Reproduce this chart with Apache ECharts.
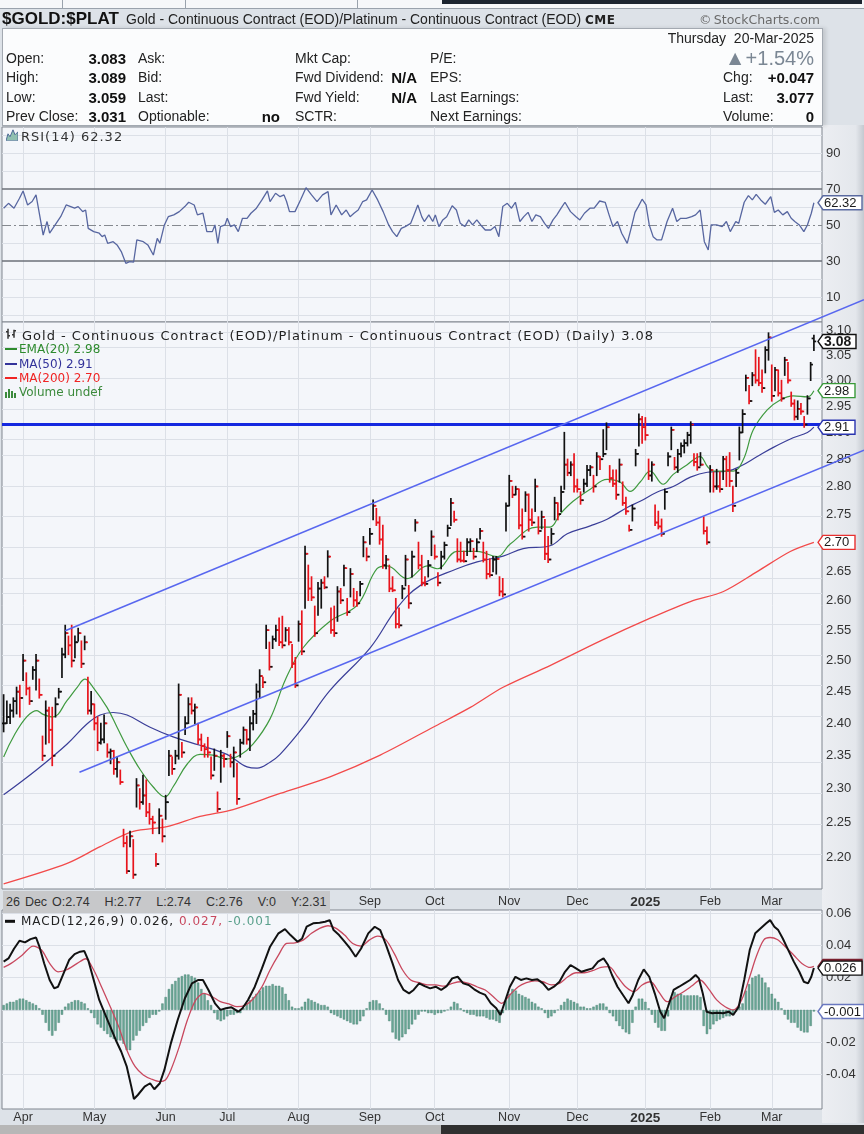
<!DOCTYPE html>
<html><head><meta charset="utf-8">
<script src="https://cdn.jsdelivr.net/npm/echarts@6.0.0/dist/echarts.min.js"></script>
<style>
html,body{margin:0;padding:0;}
body{width:864px;height:1134px;background:#dde2e8;position:relative;overflow:hidden;font-family:'Liberation Sans',Arial,sans-serif;color:#222;}
#chart{position:absolute;left:0;top:0;width:864px;height:1134px;z-index:1;}
.t{position:absolute;white-space:nowrap;transform:translateY(-50%);line-height:1.15;z-index:3;}
.b{position:absolute;z-index:0;}
.lab{font:14px 'Liberation Sans',Arial,sans-serif;color:#222;}
.val{font:bold 15px 'Liberation Sans',Arial,sans-serif;color:#111;}
.leg{font:12px 'DejaVu Sans',sans-serif;}
.dash{display:inline-block;width:12px;height:2px;vertical-align:middle;margin-right:2px;position:relative;top:-1px;}
</style></head>
<body>
<!-- backgrounds -->
<div class="b" style="left:0;top:0;width:864px;height:8px;background:#f6f7f9;border-bottom:1px solid #9aa2ac;"></div>
<div class="b" style="left:62px;top:0;width:1px;height:8px;background:#9aa2ac;"></div>
<div class="b" style="left:185px;top:0;width:1px;height:8px;background:#9aa2ac;"></div>
<div class="b" style="left:357px;top:0;width:1px;height:8px;background:#9aa2ac;"></div>
<div class="b" style="left:442px;top:0;width:420px;height:4px;background:#1d2530;"></div>
<div class="b" style="left:822px;top:125px;width:42px;height:998px;background:linear-gradient(to right,#eceef2 0%,#e4e7ec 80%,#c4c9d0 100%);"></div>
<div class="b" style="left:2px;top:28px;width:819px;height:96px;background:#fbfcfd;border:1px solid #a3a9b1;box-shadow:3px 0 4px rgba(0,0,0,0.12);"></div>
<div class="b" style="left:0;top:1125px;width:441px;height:9px;background:#b7b7b7;z-index:4;"></div>
<div class="b" style="left:441px;top:1125px;width:423px;height:9px;background:#303030;z-index:4;"></div>

<div id="chart"></div>

<!-- header -->
<div class="t" style="left:2px;top:19px;font:bold 17px 'Liberation Sans',Arial,sans-serif;color:#111;">$GOLD:$PLAT</div>
<div class="t" style="left:126px;top:19px;font:14px 'Liberation Sans',Arial,sans-serif;color:#222;">Gold - Continuous Contract (EOD)/Platinum - Continuous Contract (EOD) <span style="font:bold 12px 'DejaVu Sans',sans-serif;letter-spacing:0.5px;">CME</span></div>
<div class="t" style="right:44px;top:19px;font:12.5px 'DejaVu Sans',sans-serif;color:#6a6a6a;">&copy;&thinsp;StockCharts.com</div>

<div class="t lab" style="right:50px;top:38px;">Thursday&nbsp;&nbsp;20-Mar-2025</div>
<div class="t" style="right:50px;top:58px;font:20px 'Liberation Sans',Arial,sans-serif;color:#7b8794;"><span style="font-size:21px;">&#9650;</span>+1.54%</div>

<div class="t lab" style="left:6px;top:58px;">Open:</div>
<div class="t val" style="right:738px;top:58px;">3.083</div>
<div class="t lab" style="left:138px;top:58px;">Ask:</div>
<div class="t lab" style="left:295px;top:58px;">Mkt Cap:</div>
<div class="t lab" style="left:430px;top:58px;">P/E:</div>

<div class="t lab" style="left:6px;top:77px;">High:</div>
<div class="t val" style="right:738px;top:77px;">3.089</div>
<div class="t lab" style="left:138px;top:77px;">Bid:</div>
<div class="t lab" style="left:295px;top:77px;">Fwd Dividend:</div>
<div class="t val" style="right:447px;top:77px;">N/A</div>
<div class="t lab" style="left:430px;top:77px;">EPS:</div>
<div class="t lab" style="left:723px;top:77px;">Chg:</div>
<div class="t val" style="right:50px;top:77px;">+0.047</div>

<div class="t lab" style="left:6px;top:97px;">Low:</div>
<div class="t val" style="right:738px;top:97px;">3.059</div>
<div class="t lab" style="left:138px;top:97px;">Last:</div>
<div class="t lab" style="left:295px;top:97px;">Fwd Yield:</div>
<div class="t val" style="right:447px;top:97px;">N/A</div>
<div class="t lab" style="left:430px;top:97px;">Last Earnings:</div>
<div class="t lab" style="left:723px;top:97px;">Last:</div>
<div class="t val" style="right:50px;top:97px;">3.077</div>

<div class="t lab" style="left:6px;top:116px;">Prev Close:</div>
<div class="t val" style="right:738px;top:116px;">3.031</div>
<div class="t lab" style="left:138px;top:116px;">Optionable:</div>
<div class="t val" style="right:584px;top:116px;">no</div>
<div class="t lab" style="left:295px;top:116px;">SCTR:</div>
<div class="t lab" style="left:430px;top:116px;">Next Earnings:</div>
<div class="t lab" style="left:723px;top:116px;">Volume:</div>
<div class="t val" style="right:50px;top:116px;">0</div>

<!-- RSI legend -->
<div class="t" style="left:6px;top:136px;"><svg width="12" height="12" viewBox="0 0 12 12"><polygon points="0,12 2,5 4,8 7,1 9,6 12,3 12,12" fill="#8fc0b0" stroke="#4f6b96" stroke-width="1"/></svg></div>
<div class="t" style="left:21px;top:136px;font:13px 'DejaVu Sans',sans-serif;letter-spacing:1px;color:#333;">RSI(14) 62.32</div>

<!-- main legend -->
<div class="t" style="left:5px;top:335px;"><svg width="13" height="12" viewBox="0 0 13 12"><g stroke="#333" stroke-width="1.5"><line x1="3" y1="1" x2="3" y2="11"/><line x1="1" y1="4" x2="3" y2="4"/><line x1="3" y1="8" x2="5" y2="8"/><line x1="9" y1="2" x2="9" y2="10"/><line x1="7" y1="7" x2="9" y2="7"/><line x1="9" y1="3" x2="11" y2="3"/></g></svg></div>
<div class="t" style="left:22px;top:335px;font:13px 'DejaVu Sans',sans-serif;letter-spacing:1px;color:#222;">Gold - Continuous Contract (EOD)/Platinum - Continuous Contract (EOD) (Daily) 3.08</div>
<div class="t leg" style="left:5px;top:349px;color:#2e8b2e;"><span class="dash" style="background:#2e8b2e;"></span>EMA(20) 2.98</div>
<div class="t leg" style="left:5px;top:364px;color:#33339a;"><span class="dash" style="background:#33339a;"></span>MA(50) 2.91</div>
<div class="t leg" style="left:5px;top:378px;color:#f02424;"><span class="dash" style="background:#f02424;"></span>MA(200) 2.70</div>
<div class="t leg" style="left:5px;top:392px;color:#3c8a3c;"><svg width="13" height="10" viewBox="0 0 13 10" style="vertical-align:middle;margin-right:1px;"><g fill="#3c8a3c"><rect x="0" y="4" width="2" height="6"/><rect x="3" y="1" width="2" height="9"/><rect x="6" y="3" width="2" height="7"/><rect x="9" y="5" width="2" height="5"/></g></svg>Volume undef</div>

<!-- date strip -->
<div class="b" style="left:3px;top:891px;width:327px;height:22px;background:#c7c8ca;z-index:3;"></div>
<div class="t" style="left:6px;top:902px;font:12.5px 'Liberation Sans',Arial,sans-serif;color:#333;word-spacing:1.5px;">26 Dec O:2.74&nbsp;&nbsp;&nbsp;H:2.77&nbsp;&nbsp;&nbsp;L:2.74&nbsp;&nbsp;&nbsp;C:2.76&nbsp;&nbsp;&nbsp;V:0&nbsp;&nbsp;&nbsp;Y:2.31</div>

<!-- MACD legend -->
<div class="t" style="left:5px;top:921px;"><span style="display:inline-block;width:10px;height:3px;background:#111;vertical-align:middle;"></span></div>
<div class="t" style="left:21px;top:921px;font:12px 'DejaVu Sans',sans-serif;letter-spacing:1px;color:#222;">MACD(12,26,9) 0.026, <span style="color:#c8485e;">0.027,</span> <span style="color:#5aa08c;">-0.001</span></div>

<script>
// ---------- axis / category data ----------
const monthIdx = [6, 28, 50, 69, 91, 113, 133, 156, 177, 198, 218, 237];
const monthLab = ['Apr', 'May', 'Jun', 'Jul', 'Aug', 'Sep', 'Oct', 'Nov', 'Dec', '2025', 'Feb', 'Mar'];
const priceTicks = [2.20, 2.25, 2.30, 2.35, 2.40, 2.45, 2.50, 2.55, 2.60, 2.65, 2.70, 2.75, 2.80, 2.85, 2.90, 2.95, 3.00, 3.05, 3.10];
const rsiTicks = [10, 30, 50, 70, 90];
const rsiGrid = [0, 10, 20, 40, 60, 80, 90, 100];
const macdTicks = [-0.04, -0.02, 0.02, 0.04, 0.06];
const macdGrid = [-0.04, -0.02, 0, 0.02, 0.04, 0.06];

// ---------- daily price bars (day index 0 = 21-Mar-2024 ... 250 = 20-Mar-2025) ----------
const dayHigh = [
 2.445,2.435,2.43,2.44,2.457,2.46,2.51,2.48,2.457,2.49,
 2.51,2.47,2.38,2.435,2.425,2.425,2.44,2.455,2.52,2.558,
 2.54,2.558,2.54,2.553,2.532,2.54,2.473,2.45,2.43,2.41,
 2.40,2.413,2.368,2.36,2.358,2.348,2.328,2.24,2.23,2.237,
 2.225,2.315,2.30,2.32,2.313,2.278,2.259,2.205,2.27,2.255,
 2.29,2.358,2.348,2.358,2.462,2.37,2.41,2.44,2.44,2.43,
 2.40,2.383,2.368,2.378,2.348,2.36,2.295,2.358,2.352,2.387,
 2.352,2.363,2.338,2.375,2.394,2.39,2.41,2.42,2.462,2.485,
 2.473,2.558,2.53,2.54,2.558,2.57,2.573,2.554,2.554,2.526,
 2.505,2.565,2.582,2.693,2.66,2.64,2.59,2.63,2.635,2.64,
 2.685,2.587,2.59,2.623,2.62,2.66,2.603,2.654,2.62,2.615,
 2.632,2.71,2.69,2.724,2.775,2.76,2.745,2.73,2.677,2.66,
 2.64,2.603,2.587,2.625,2.677,2.625,2.684,2.74,2.70,2.677,
 2.64,2.668,2.72,2.695,2.647,2.684,2.70,2.73,2.778,2.755,
 2.706,2.70,2.684,2.706,2.706,2.689,2.706,2.724,2.70,2.684,
 2.671,2.675,2.675,2.64,2.637,2.77,2.82,2.80,2.80,2.795,
 2.759,2.79,2.786,2.759,2.813,2.745,2.755,2.74,2.71,2.724,
 2.78,2.77,2.80,2.90,2.85,2.845,2.86,2.813,2.79,2.813,
 2.838,2.838,2.82,2.862,2.855,2.905,2.918,2.838,2.83,2.83,
 2.85,2.808,2.78,2.73,2.766,2.868,2.935,2.93,2.928,2.85,
 2.845,2.766,2.755,2.741,2.795,2.862,2.91,2.853,2.868,2.88,
 2.886,2.90,2.92,2.86,2.86,2.862,2.745,2.727,2.838,2.826,
 2.831,2.826,2.855,2.855,2.862,2.80,2.831,2.91,2.943,3.01,
 2.99,3.015,3.06,3.045,3.02,3.066,3.094,3.03,3.025,3.02,
 3.00,3.045,3.035,2.977,2.962,2.96,2.955,2.93,2.97,3.035,3.089];
const dayLow = [
 2.387,2.40,2.40,2.41,2.415,2.41,2.468,2.445,2.43,2.47,
 2.453,2.44,2.343,2.368,2.37,2.335,2.41,2.44,2.473,2.505,
 2.51,2.49,2.505,2.532,2.489,2.518,2.415,2.415,2.39,2.358,
 2.368,2.37,2.348,2.338,2.322,2.318,2.307,2.215,2.177,2.215,
 2.17,2.273,2.27,2.277,2.259,2.248,2.234,2.187,2.234,2.222,
 2.255,2.32,2.322,2.338,2.345,2.348,2.383,2.40,2.415,2.40,
 2.368,2.358,2.348,2.348,2.315,2.328,2.266,2.31,2.333,2.363,
 2.333,2.318,2.277,2.348,2.368,2.368,2.358,2.39,2.40,2.44,
 2.457,2.52,2.485,2.52,2.532,2.525,2.521,2.532,2.526,2.489,
 2.457,2.532,2.51,2.587,2.60,2.60,2.54,2.575,2.587,2.62,
 2.64,2.545,2.54,2.565,2.595,2.625,2.575,2.606,2.59,2.59,
 2.608,2.675,2.668,2.697,2.74,2.73,2.697,2.655,2.654,2.615,
 2.615,2.554,2.554,2.603,2.625,2.587,2.64,2.72,2.654,2.625,
 2.625,2.64,2.677,2.671,2.625,2.654,2.671,2.711,2.73,2.736,
 2.666,2.666,2.666,2.677,2.684,2.671,2.684,2.706,2.666,2.637,
 2.64,2.649,2.645,2.608,2.606,2.72,2.765,2.78,2.785,2.724,
 2.706,2.755,2.72,2.73,2.755,2.715,2.724,2.67,2.665,2.697,
 2.74,2.74,2.755,2.795,2.82,2.82,2.79,2.79,2.768,2.79,
 2.80,2.82,2.79,2.82,2.831,2.855,2.868,2.808,2.80,2.777,
 2.808,2.766,2.75,2.72,2.738,2.838,2.875,2.88,2.886,2.813,
 2.81,2.73,2.724,2.711,2.759,2.838,2.868,2.831,2.826,2.855,
 2.862,2.875,2.88,2.838,2.83,2.838,2.715,2.697,2.79,2.79,
 2.795,2.79,2.813,2.80,2.80,2.755,2.80,2.849,2.90,2.98,
 2.955,2.99,2.995,2.99,2.977,3.015,3.04,2.96,2.98,2.97,
 2.96,3.01,2.995,2.95,2.924,2.925,2.935,2.91,2.935,3.00,3.059];
const dayClose = [
 2.40,2.41,2.42,2.435,2.45,2.44,2.50,2.455,2.435,2.485,
 2.50,2.445,2.35,2.42,2.39,2.35,2.43,2.45,2.51,2.545,
 2.525,2.50,2.53,2.545,2.495,2.53,2.42,2.43,2.40,2.37,
 2.375,2.40,2.355,2.357,2.33,2.34,2.31,2.22,2.18,2.23,
 2.175,2.305,2.28,2.29,2.265,2.255,2.25,2.19,2.26,2.23,
 2.28,2.35,2.33,2.35,2.445,2.355,2.40,2.43,2.42,2.425,
 2.375,2.365,2.36,2.355,2.32,2.35,2.27,2.35,2.345,2.38,
 2.34,2.355,2.285,2.37,2.39,2.375,2.40,2.415,2.45,2.475,
 2.465,2.55,2.49,2.535,2.55,2.53,2.525,2.55,2.53,2.495,
 2.46,2.56,2.515,2.68,2.62,2.605,2.545,2.62,2.63,2.622,
 2.675,2.55,2.545,2.615,2.60,2.655,2.58,2.645,2.60,2.595,
 2.628,2.70,2.675,2.715,2.765,2.735,2.705,2.66,2.67,2.62,
 2.617,2.56,2.558,2.62,2.67,2.595,2.675,2.735,2.66,2.63,
 2.628,2.66,2.71,2.675,2.63,2.675,2.695,2.725,2.77,2.74,
 2.67,2.668,2.667,2.70,2.702,2.675,2.70,2.72,2.67,2.645,
 2.643,2.67,2.671,2.615,2.61,2.765,2.81,2.785,2.795,2.73,
 2.71,2.785,2.74,2.735,2.80,2.72,2.745,2.68,2.67,2.715,
 2.77,2.75,2.79,2.84,2.825,2.84,2.80,2.795,2.775,2.805,
 2.83,2.835,2.80,2.855,2.85,2.86,2.91,2.815,2.805,2.785,
 2.84,2.77,2.755,2.722,2.76,2.86,2.925,2.91,2.895,2.82,
 2.84,2.735,2.728,2.715,2.79,2.855,2.905,2.835,2.86,2.875,
 2.88,2.895,2.915,2.845,2.835,2.84,2.72,2.70,2.83,2.80,
 2.80,2.795,2.85,2.83,2.81,2.765,2.825,2.90,2.935,3.005,
 2.96,3.01,3.00,2.995,2.985,3.06,3.085,2.97,3.02,2.975,
 2.965,3.04,3.00,2.955,2.93,2.945,2.94,2.915,2.965,3.031,3.077];
const lastOpen = 3.083;

// ---------- overlays [day, price] ----------
const ema20Pts = [[0,2.348],[10.3,2.42],[12.2,2.414],[15.2,2.41],[19.6,2.436],[22.7,2.457],[25.1,2.47],[27.6,2.457],[31.9,2.425],[35,2.394],[38.1,2.363],[42.1,2.329],[46.1,2.303],[49.8,2.288],[52.3,2.303],[56.6,2.337],[60.6,2.352],[64.6,2.351],[68.9,2.345],[73,2.351],[77,2.368],[82.2,2.407],[87,2.47],[92.4,2.521],[100.7,2.565],[109.1,2.592],[115.2,2.654],[118.3,2.659],[124.5,2.637],[130.7,2.659],[133.8,2.654],[139.9,2.684],[146.1,2.684],[152.3,2.675],[156.3,2.697],[164.6,2.727],[168.6,2.727],[171.7,2.75],[175.7,2.773],[181,2.795],[186.2,2.813],[190.2,2.808],[193.3,2.791],[196.4,2.808],[199.5,2.828],[203.5,2.804],[206.6,2.822],[210.9,2.84],[214.9,2.855],[217.1,2.837],[218.9,2.828],[225.1,2.828],[228.2,2.849],[231.3,2.905],[235.6,2.943],[239.6,2.962],[243.6,2.97],[248,2.968],[250,2.98]];
const ma50Pts = [[0,2.291],[10.3,2.329],[19.6,2.368],[25.7,2.399],[29.8,2.413],[33.8,2.417],[38.1,2.413],[45.2,2.394],[52.3,2.379],[60.6,2.366],[68.9,2.352],[75.1,2.333],[78.2,2.331],[82.2,2.34],[85.3,2.352],[92.4,2.394],[100.7,2.452],[113.1,2.521],[121.4,2.587],[128.5,2.625],[139.9,2.654],[146.1,2.666],[154.1,2.676],[160.3,2.689],[168.6,2.694],[173.9,2.715],[181,2.729],[186.2,2.741],[192.4,2.762],[196.4,2.773],[201.7,2.79],[206.6,2.80],[211.9,2.817],[217.1,2.826],[223.3,2.828],[227.3,2.837],[232.5,2.855],[237.5,2.872],[243.6,2.89],[248,2.90],[250,2.91]];
const ma200Pts = [[0,2.162],[19.6,2.191],[29.8,2.215],[40,2.237],[50.4,2.244],[60.6,2.259],[70.8,2.269],[85.3,2.293],[100.7,2.318],[116.2,2.351],[132.5,2.394],[144,2.425],[154.1,2.457],[168.6,2.492],[184,2.532],[199.5,2.57],[211.9,2.598],[222.1,2.615],[232.5,2.649],[242.7,2.684],[250,2.70]];
// trend channel: two anchor points each; the drawn segment is extended to the right edge of the chart
const upperChannel = [[19, 2.549], [200, 2.986]];
const lowerChannel = [[23.4, 2.325], [200, 2.709]];
const supportLevel = 2.91;

// ---------- RSI(14) [day, value] ----------
const rsiPts = [[0,59.3],[1.5,62],[3.2,59.3],[4.9,64.8],[6,68.9],[7.4,61.1],[8.8,63],[10,66.7],[11.1,55.6],[12.2,44.4],[13.4,51.9],[14.2,45.4],[15.9,50],[17.6,54.6],[19.3,61.1],[20.7,60.2],[21.9,59.3],[23,60.2],[24.4,57.4],[25.3,58.3],[26.1,48.1],[27.8,46.3],[29.5,45.4],[30.4,43.5],[31.2,44.4],[32.1,39.8],[33.8,40.7],[35,38.9],[36.3,35.2],[37.7,28.7],[38.9,29.6],[40.1,29.3],[41.1,41.7],[43.1,40.7],[44.5,38.9],[46.2,33.3],[47.4,42.6],[48.2,39.8],[49.6,50],[50.8,54.6],[52.5,55.6],[54.2,57.4],[55.9,60.2],[57.1,62.6],[58.8,61.1],[59.8,55.6],[61.5,56.5],[62.7,46.3],[64.4,46.3],[65.2,50],[66.1,39.8],[66.9,49.1],[68.3,50],[69,53.7],[70,49.1],[71.2,50],[72.4,46.3],[73.7,53.7],[75.1,53.7],[76.3,56.5],[78,59.3],[79.7,63.9],[81.4,68.9],[82.2,63],[83.9,67.6],[85.3,65.7],[86.5,66.7],[87.3,63],[88.2,57.4],[89.9,57.4],[91.6,63.9],[93.3,70.7],[95,66.7],[96.7,63],[98.4,66.7],[100.1,68.5],[101,55.6],[102.6,61.1],[104.3,55.6],[105.7,58.3],[106.9,54.6],[108.1,56.5],[109.4,58.3],[110.8,63],[112,63.9],[113.7,69.4],[115.4,63.9],[117.1,57.4],[118.8,50],[120,46.3],[121.3,43.5],[122.7,48.1],[123.9,49.1],[125.6,50.9],[126.4,54.6],[127.8,61.1],[129,54.6],[129.8,51.9],[131.2,55.6],[132.4,51.9],[133.2,55.6],[134.3,49.1],[135.5,52.8],[136.7,54.6],[138.4,60.7],[139.7,58.3],[140.9,50.9],[142.3,49.1],[143.5,52.8],[144.7,50],[146,52.8],[147.2,50],[148.6,47.2],[150.3,47.2],[151.6,49.1],[152.8,43.5],[154,60.2],[155.4,62],[156.7,59.3],[157.9,62.6],[159.3,51.9],[160.5,54.6],[161.8,57],[163,51.9],[164.2,55.6],[165.6,54.6],[166.9,50.9],[168.1,48.1],[169.5,52.8],[170.7,55.6],[172,59.3],[173.2,62.6],[174.9,57.4],[176.6,54.6],[177.8,52.8],[179.2,56.5],[180.9,59.3],[182.2,59.3],[183.9,63.3],[185.6,62.6],[186.8,55.6],[188,49.1],[189.4,51.9],[190.7,45.4],[192.4,39.8],[193.6,48.1],[194.8,57],[195.8,60.2],[197,64.3],[198.2,61.1],[199.2,50],[200.4,43.5],[201.6,41.7],[203,41.7],[204.7,51.9],[206.4,59.3],[207.7,51.9],[208.9,53.7],[210.6,53.7],[212.3,54.6],[213.5,55.6],[214.9,58.3],[216.2,40.7],[217.4,36.1],[218.3,50],[220,50],[221.7,49.1],[223,51.9],[224.2,46.3],[225.9,51.9],[226.8,50.9],[228.5,62.6],[229.8,66.3],[231,63.9],[232.2,67],[233.6,63.9],[235,61.5],[236.7,65.7],[237.8,57],[239,58.3],[240.4,55.6],[241.8,57.4],[243,53.7],[244.1,51.9],[245.5,50],[246.9,46.3],[248,50],[249.2,56.5],[250,62.32]];

// ---------- MACD(12,26,9) ----------
const macdPts = [[0,0.030],[1.5,0.032],[3.2,0.038],[4.9,0.043],[6.6,0.042],[8.3,0.044],[10,0.045],[11.1,0.039],[12.5,0.029],[14.2,0.0186],[15.6,0.0134],[16.8,0.0144],[18.5,0.0227],[20.2,0.031],[21.9,0.0347],[23.6,0.0362],[24.9,0.0366],[26.1,0.031],[27.8,0.0186],[29.5,0.0062],[31.2,-0.0021],[32.9,-0.0104],[34.6,-0.0187],[36.3,-0.026],[38,-0.0353],[39.4,-0.0477],[40.2,-0.0554],[41.4,-0.0529],[43.5,-0.0477],[45.2,-0.0456],[46.5,-0.0493],[48.2,-0.0456],[49.6,-0.0373],[51.6,-0.0208],[53.7,-0.0063],[55.9,0.0071],[58.1,0.0165],[60.1,0.0186],[61.5,0.0186],[63.2,0.0124],[65.2,0.0041],[66.9,0],[68.6,0.001],[70.3,0.0016],[72.4,-0.0011],[73.7,0.001],[75.4,0.0062],[77.5,0.0144],[79.7,0.0258],[82.2,0.0393],[84.8,0.0476],[86.8,0.0502],[88.5,0.0465],[90.7,0.0424],[92.1,0.0444],[93.5,0.0517],[95.5,0.0538],[97.5,0.0542],[99.2,0.0548],[100.6,0.0558],[101.8,0.0496],[103.5,0.0465],[105.2,0.0424],[106.9,0.0382],[108.6,0.033],[110.3,0.0382],[112.5,0.0476],[114.5,0.0517],[116.2,0.0496],[118,0.0403],[120,0.0289],[121.7,0.0186],[123.4,0.0124],[125.1,0.0103],[126.5,0.0124],[128.2,0.0165],[129.9,0.0148],[131.6,0.0134],[133.3,0.0144],[135,0.0124],[136.7,0.0148],[138.4,0.0196],[140.1,0.0206],[141.8,0.0165],[143.5,0.0155],[145.2,0.0128],[146.9,0.0107],[148.6,0.0093],[150.3,0.0041],[152,0.001],[153.3,-0.0032],[154.5,0.0041],[156.2,0.0144],[157.9,0.0206],[159.6,0.0186],[161.3,0.0196],[163,0.0186],[164.7,0.019],[166.4,0.0165],[168.1,0.0124],[169.8,0.0144],[171.5,0.0175],[173.2,0.0237],[174.9,0.0279],[176.6,0.0258],[178.3,0.0237],[180,0.0248],[181.7,0.0258],[183.4,0.03],[185.1,0.032],[186.5,0.0279],[187.7,0.0217],[189.4,0.0144],[191.1,0.0093],[192.8,0.0041],[194.1,0.0093],[195.8,0.0186],[197.5,0.0252],[199.2,0.0206],[200.9,0.0103],[202.6,-0.0011],[203.8,-0.0052],[205,0.002],[206.7,0.0124],[208.4,0.0144],[210.1,0.0165],[211.8,0.0186],[213.5,0.0217],[214.5,0.0196],[215.7,0.0103],[216.9,-0.0011],[218.6,-0.0021],[220.3,-0.0017],[222,-0.0021],[223.7,-0.0011],[225.1,-0.0032],[226.8,0.002],[228.5,0.0186],[230.2,0.0372],[231.9,0.0476],[233.6,0.0507],[235.3,0.0538],[236.5,0.0558],[237.8,0.0517],[239,0.0496],[240.4,0.0444],[242.1,0.0372],[243.8,0.03],[245.5,0.0237],[246.9,0.0175],[248.2,0.0165],[249.2,0.0206],[250,0.026]];
const signalPts = [[0,0.0264],[2.3,0.0289],[5.7,0.034],[9.1,0.0397],[11.7,0.0372],[14.2,0.0289],[16.8,0.0237],[19.3,0.0248],[22.7,0.0289],[25.3,0.0318],[27.8,0.0248],[30.4,0.0134],[32.9,0.002],[35.5,-0.0104],[38,-0.0249],[40.6,-0.0353],[43.1,-0.0404],[45.7,-0.0431],[48.2,-0.0446],[49.9,-0.0436],[51.6,-0.0373],[54.2,-0.0228],[56.7,-0.0063],[59.3,0.0062],[61.8,0.0103],[64.4,0.0082],[66.9,0.0051],[69.5,0.0037],[72,0.002],[74.6,0.003],[77.1,0.0071],[79.7,0.0144],[82.2,0.0248],[84.8,0.034],[87.3,0.0413],[89.9,0.0417],[92.4,0.0434],[95,0.0476],[97.5,0.0507],[100.1,0.0523],[102.6,0.0507],[105.2,0.0465],[107.7,0.0413],[110.3,0.0397],[112.8,0.0434],[115.4,0.0459],[118,0.0434],[120.5,0.0351],[123.1,0.0248],[125.6,0.0186],[128.2,0.0169],[130.7,0.0155],[133.3,0.0155],[135.8,0.0148],[138.4,0.0165],[140.9,0.0175],[143.5,0.0165],[146,0.0144],[148.6,0.0124],[151.1,0.0082],[153.7,0.0041],[156.2,0.0093],[158.8,0.0144],[161.3,0.0169],[163.9,0.0181],[166.4,0.0175],[169,0.0155],[171.5,0.0165],[174.1,0.0206],[176.6,0.0231],[179.2,0.0231],[181.7,0.0244],[184.3,0.0264],[186.8,0.0269],[189.4,0.0206],[191.9,0.0144],[194.5,0.0113],[197,0.0155],[199.6,0.0175],[202.1,0.0113],[204.7,0.0051],[207.2,0.0082],[209.8,0.0113],[212.3,0.0148],[214.9,0.0186],[217.4,0.0134],[220,0.0062],[222.6,0.002],[225.1,0],[227.7,0.0062],[230.2,0.0206],[232.2,0.033],[234.5,0.0434],[236.5,0.045],[238.7,0.0438],[241.2,0.0393],[243.8,0.034],[246.3,0.0289],[248.9,0.0264],[250,0.027]];
const macdHist = [
 0.003,0.004,0.005,0.005,0.006,0.007,0.007,0.006,0.005,0.004,
 0.003,0.001,-0.003,-0.008,-0.013,-0.016,-0.013,-0.008,-0.003,0.002,
 0.004,0.005,0.006,0.006,0.005,0.004,0.001,-0.002,-0.005,-0.009,
 -0.011,-0.013,-0.015,-0.017,-0.018,-0.019,-0.019,-0.021,-0.025,-0.025,
 -0.019,-0.016,-0.013,-0.010,-0.008,-0.005,-0.003,-0.003,-0.001,0.004,
 0.008,0.013,0.016,0.018,0.020,0.021,0.022,0.022,0.021,0.020,
 0.017,0.013,0.010,0.006,0.003,-0.002,-0.006,-0.007,-0.006,-0.004,
 -0.003,-0.003,-0.002,-0.002,0.001,0.004,0.006,0.008,0.010,0.012,
 0.014,0.015,0.015,0.016,0.015,0.015,0.014,0.010,0.006,0.002,
 0.001,0.001,0.002,0.005,0.007,0.006,0.005,0.004,0.003,0.003,
 0.002,-0.002,-0.003,-0.004,-0.005,-0.006,-0.007,-0.008,-0.009,-0.009,
 -0.007,-0.004,0.001,0.005,0.006,0.006,0.004,0.001,-0.003,-0.007,
 -0.014,-0.018,-0.019,-0.017,-0.015,-0.012,-0.009,-0.006,-0.003,-0.001,
 -0.001,-0.002,-0.002,-0.003,-0.002,-0.002,-0.001,0.000,0.002,0.005,
 0.004,0.001,-0.001,-0.002,-0.003,-0.003,-0.004,-0.004,-0.004,-0.005,
 -0.006,-0.006,-0.007,-0.008,-0.002,0.006,0.010,0.013,0.012,0.010,
 0.009,0.008,0.007,0.005,0.004,0.002,0.001,-0.002,-0.005,-0.004,
 -0.002,0.000,0.003,0.005,0.007,0.006,0.005,0.004,0.002,0.002,
 0.001,0.001,0.002,0.003,0.004,0.004,0.002,-0.002,-0.004,-0.007,
 -0.010,-0.012,-0.014,-0.015,-0.008,0.002,0.007,0.007,0.005,0.001,
 -0.003,-0.008,-0.011,-0.013,-0.013,-0.004,0.008,0.011,0.010,0.010,
 0.009,0.009,0.009,0.009,0.009,0.008,-0.010,-0.015,-0.012,-0.009,
 -0.007,-0.006,-0.005,-0.004,-0.004,-0.003,-0.001,0.002,0.004,0.012,
 0.016,0.020,0.021,0.022,0.020,0.017,0.014,0.010,0.007,0.005,
 0.001,-0.003,-0.006,-0.008,-0.008,-0.011,-0.013,-0.014,-0.014,-0.010,-0.001];

// ---------- latest-value tags ----------
const rsiTags = [{v: 62.32, text: '62.32', c: '#5a6aa0', w: 44}];
const priceTags = [
  {v: 2.70, text: '2.70', c: '#e83030', w: 37},
  {v: 2.91, text: '2.91', c: '#2a34b0', w: 37},
  {v: 2.98, text: '2.98', c: '#3a9a3a', w: 37},
  {v: 3.077, text: '3.08', c: '#111', w: 38, bold: true}];
const macdTags = [
  {v: -0.001, text: '-0.001', c: '#6a78c0', w: 46},
  {v: 0.027, text: '', c: '#7a1f2e', w: 44, fill: '#8a2536'},
  {v: 0.026, text: '0.026', c: '#111', w: 44}];

// ---------- build ----------
const L = Math.log;
const XMIN = -0.5, XMAX = 252.5;
const FONT = "'Liberation Sans', Arial, sans-serif";
const ohlc = dayClose.map((c, i) => {
  const o = i === dayClose.length - 1 ? lastOpen : (i > 0 ? dayClose[i - 1] : c);
  const up = i === 0 ? 1 : (c >= dayClose[i - 1] ? 1 : 0);
  return [i, L(o), L(dayHigh[i]), L(dayLow[i]), L(c), up];
});
const toLog = pts => pts.map(p => [p[0], L(p[1])]);

const gl = {color: '#dce0e7', width: 1, type: 'solid'};
function dummy(g, lines, z) {
  return {type: 'line', xAxisIndex: g, yAxisIndex: g, data: [[-50, -50]], showSymbol: false, silent: true, z: z,
    lineStyle: {width: 0}, animation: false,
    markLine: {silent: true, symbol: ['none', 'none'], z: z, animation: false, label: {show: false},
      emphasis: {disabled: true}, data: lines}};
}
function vLines() { return monthIdx.map(v => ({xAxis: v, lineStyle: gl})); }

function tagSeries(g, tags, conv) {
  return {type: 'custom', xAxisIndex: g, yAxisIndex: g, z: 10, silent: true, clip: false, animation: false,
    data: tags.map(t => [XMAX, conv(t.v)]),
    encode: {x: 0, y: 1},
    renderItem: (params, api) => {
      const t = tags[params.dataIndex];
      const p = api.coord([api.value(0), api.value(1)]);
      const x0 = p[0] - 4, y = p[1], w = t.w, h = 14;
      const ch = [{type: 'polygon', shape: {points: [[x0, y], [x0 + 5, y - h / 2], [x0 + w, y - h / 2], [x0 + w, y + h / 2], [x0 + 5, y + h / 2]]},
        style: {fill: t.fill || '#ffffff', stroke: t.c, lineWidth: 1.4}}];
      if (t.text) ch.push({type: 'text', style: {text: t.text, x: x0 + 6, y: y + 0.5, align: 'left', verticalAlign: 'middle',
        fill: '#1a1a1a', font: (t.bold ? 'bold 14px ' : '13px ') + FONT}});
      return {type: 'group', children: ch};
    }};
}

// channel line: segment through the two anchors, extended to the right edge of the chart
function channelSeries(pts) {
  return {type: 'custom', xAxisIndex: 1, yAxisIndex: 1, z: 6, silent: true, clip: false, animation: false,
    data: [[pts[0][0], L(pts[0][1]), pts[1][0], L(pts[1][1])]],
    encode: {x: [0, 2], y: [1, 3]},
    renderItem: (params, api) => {
      const a = api.coord([api.value(0), api.value(1)]);
      const b = api.coord([api.value(2), api.value(3)]);
      const xEnd = api.getWidth();
      const yEnd = a[1] + (b[1] - a[1]) * (xEnd - a[0]) / (b[0] - a[0]);
      return {type: 'line', shape: {x1: a[0], y1: a[1], x2: xEnd, y2: yEnd}, style: {stroke: '#5867ef', lineWidth: 1.6}};
    }};
}

function xAx(g, show, margin) {
  return {type: 'value', gridIndex: g, min: XMIN, max: XMAX, axisLine: {show: false}, axisTick: {show: false}, splitLine: {show: false},
    axisLabel: {show: show, customValues: monthIdx, margin: margin, fontSize: 12.5, color: '#333', fontFamily: FONT,
      formatter: v => { const s = monthLab[monthIdx.indexOf(v)]; return s === '2025' ? '{b|2025}' : s; },
      rich: {b: {fontWeight: 'bold', fontSize: 13.5, color: '#333', fontFamily: FONT}}}};
}
function yAx(g, min, max, ticks, fmt) {
  return {type: 'value', gridIndex: g, position: 'right', min: min, max: max, axisLine: {show: false}, axisTick: {show: false},
    splitLine: {show: false},
    axisLabel: {customValues: ticks, formatter: fmt, margin: 4, fontSize: 13, color: '#333', fontFamily: FONT}};
}

const panel = {show: true, backgroundColor: '#f4f6fa', borderColor: '#80868f', borderWidth: 1};
const option = {
  animation: false,
  grid: [
    Object.assign({left: 2, top: 127, width: 820, height: 195}, panel),
    Object.assign({left: 2, top: 322, width: 820, height: 567}, panel),
    Object.assign({left: 2, top: 910, width: 820, height: 199}, panel)
  ],
  xAxis: [xAx(0, false, 0), xAx(1, true, 6.5), xAx(2, true, 2)],
  yAxis: [
    yAx(0, -3.9, 104.4, rsiTicks, v => String(v)),
    yAx(1, 0.7677, 1.1366, priceTicks.map(L), v => Math.exp(v).toFixed(2)),
    yAx(2, -0.0616, 0.0621, macdTicks, v => v.toFixed(2))
  ],
  series: [
    // RSI panel
    dummy(0, vLines().concat(rsiGrid.map(v => ({yAxis: v, lineStyle: gl}))), 1),
    dummy(0, [
      {yAxis: 70, lineStyle: {color: '#6c7078', width: 1.6, type: 'solid'}},
      {yAxis: 30, lineStyle: {color: '#6c7078', width: 1.6, type: 'solid'}},
      {yAxis: 50, lineStyle: {color: '#85898f', width: 1.2, type: [9, 3, 2, 3]}}
    ], 2),
    {type: 'line', xAxisIndex: 0, yAxisIndex: 0, data: rsiPts, showSymbol: false, z: 3,
      lineStyle: {color: '#5766a0', width: 1.3}},
    tagSeries(0, rsiTags, v => v),

    // price panel
    dummy(1, vLines().concat(priceTicks.map(p => ({yAxis: L(p), lineStyle: gl}))), 1),
    {type: 'line', xAxisIndex: 1, yAxisIndex: 1, data: toLog(ma200Pts), showSymbol: false, smooth: 0.3, z: 2,
      lineStyle: {color: '#f24a4a', width: 1.3}},
    {type: 'line', xAxisIndex: 1, yAxisIndex: 1, data: toLog(ma50Pts), showSymbol: false, smooth: 0.4, z: 2,
      lineStyle: {color: '#3a3e98', width: 1.2}},
    {type: 'line', xAxisIndex: 1, yAxisIndex: 1, data: toLog(ema20Pts), showSymbol: false, smooth: 0.4, z: 2,
      lineStyle: {color: '#3f9a3f', width: 1.2}},
    channelSeries(upperChannel),
    channelSeries(lowerChannel),
    dummy(1, [{yAxis: L(supportLevel), lineStyle: {color: '#1428e0', width: 3, type: 'solid'}}], 3),
    {type: 'custom', xAxisIndex: 1, yAxisIndex: 1, z: 4, data: ohlc, encode: {x: 0, y: [1, 2, 3, 4]}, clip: true,
      renderItem: (params, api) => {
        const i = api.value(0);
        const pO = api.coord([i, api.value(1)]), pH = api.coord([i, api.value(2)]);
        const pL = api.coord([i, api.value(3)]), pC = api.coord([i, api.value(4)]);
        const col = api.value(5) ? '#111111' : '#e8141c';
        const x = pH[0], st = {stroke: col, lineWidth: 1.7};
        return {type: 'group', children: [
          {type: 'line', shape: {x1: x, y1: pH[1] - 0.6, x2: x, y2: pL[1] + 0.6}, style: st},
          {type: 'line', shape: {x1: x - 2.3, y1: pO[1], x2: x, y2: pO[1]}, style: st},
          {type: 'line', shape: {x1: x, y1: pC[1], x2: x + 2.3, y2: pC[1]}, style: st}
        ]};
      }},
    tagSeries(1, priceTags, v => L(v)),

    // MACD panel
    dummy(2, vLines().concat(macdGrid.map(v => ({yAxis: v, lineStyle: gl}))), 1),
    {type: 'bar', xAxisIndex: 2, yAxisIndex: 2, data: macdHist.map((h, i) => [i, h]), barWidth: 2.3, z: 2,
      itemStyle: {color: '#6aa796', borderColor: '#3f7a6a', borderWidth: 0.4}},
    {type: 'line', xAxisIndex: 2, yAxisIndex: 2, data: signalPts, showSymbol: false, smooth: 0.3, z: 3,
      lineStyle: {color: '#c8485e', width: 1.3}},
    {type: 'line', xAxisIndex: 2, yAxisIndex: 2, data: macdPts, showSymbol: false, z: 4,
      lineStyle: {color: '#111111', width: 2}},
    tagSeries(2, macdTags, v => v)
  ]
};
const chart = echarts.init(document.getElementById('chart'));
chart.setOption(option);
</script>
</body></html>
